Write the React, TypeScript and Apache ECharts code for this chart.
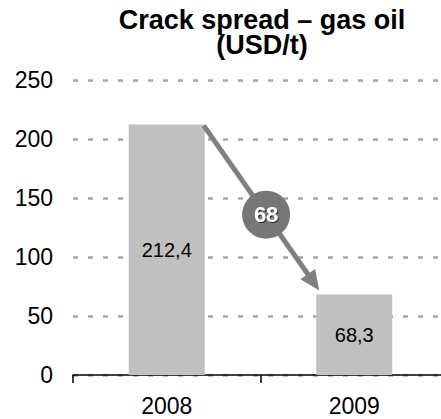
import React, { useEffect, useRef } from "react";
import * as echarts from "echarts";

const categories = ["2008", "2009"];
const values = [212.4, 68.3];
const valueLabels = ["212,4", "68,3"];
const yTicks = [0, 50, 100, 150, 200, 250];
const titleLines = ["Crack spread – gas oil", "(USD/t)"];

const FONT = "'Liberation Sans', Arial, Helvetica, sans-serif";
const BAR_W = 76;

export default function App() {
  const ref = useRef<HTMLDivElement>(null);
  useEffect(() => {
    if (!ref.current) return;
    const chart = echarts.init(ref.current, null, { renderer: "svg" });
    chart.setOption({
      animation: false,
      backgroundColor: "#ffffff",
      textStyle: { fontFamily: FONT },
      grid: {
        left: 73,
        width: 375,
        top: 80.3,
        bottom: 44,
        containLabel: false,
        outerBoundsMode: "none",
      },
      xAxis: {
        type: "category",
        data: categories,
        boundaryGap: true,
        axisLine: { show: true, lineStyle: { color: "#000", width: 1.5 } },
        axisTick: { show: true, length: 8, lineStyle: { color: "#000", width: 1.5 } },
        axisLabel: { fontSize: 23, color: "#000", margin: 19, fontFamily: FONT },
        splitLine: { show: false },
      },
      yAxis: {
        type: "value",
        min: yTicks[0],
        max: yTicks[yTicks.length - 1],
        interval: 50,
        axisLine: { show: false },
        axisTick: { show: false },
        axisLabel: { fontSize: 23, color: "#000", margin: 20, fontFamily: FONT },
        splitLine: {
          show: true,
          lineStyle: { color: "#a6a6a6", width: 2.5, type: [5, 10] },
        },
      },
      series: [
        {
          type: "bar",
          data: values,
          barWidth: BAR_W,
          itemStyle: { color: "#c0c0c0" },
          label: {
            show: true,
            position: "inside",
            fontSize: 20,
            color: "#000",
            fontFamily: FONT,
            formatter: (p: any) => valueLabels[p.dataIndex],
          },
        },
      ],
    });

    const s = chart.convertToPixel({ xAxisIndex: 0, yAxisIndex: 0 }, [0, values[0]]) as number[];
    const e = chart.convertToPixel({ xAxisIndex: 0, yAxisIndex: 0 }, [1, values[1]]) as number[];
    const x1 = s[0] + BAR_W / 2 - 1;
    const y1 = s[1] + 1;
    const x2 = e[0] - BAR_W / 2 + 3;
    const y2 = e[1] - 4;
    const dx = x2 - x1;
    const dy = y2 - y1;
    const len = Math.sqrt(dx * dx + dy * dy);
    const ux = dx / len;
    const uy = dy / len;
    const headL = 20;
    const headW = 9;
    const bx = x2 - ux * headL;
    const by = y2 - uy * headL;
    const px = -uy;
    const py = ux;
    const t = 0.54;
    const cx = x1 + dx * t;
    const cy = y1 + dy * t;
    const pct = Math.round((1 - values[1] / values[0]) * 100);
    const gray = "#808080";
    const titleX = 262;

    chart.setOption({
      graphic: [
        {
          type: "text",
          x: titleX,
          y: 7.5,
          style: {
            text: titleLines[0],
            fontSize: 27,
            lineHeight: 24,
            fontWeight: "bold",
            fontFamily: FONT,
            fill: "#000",
            align: "center",
            verticalAlign: "top",
          },
        },
        {
          type: "text",
          x: titleX,
          y: 32.5,
          style: {
            text: titleLines[1],
            fontSize: 27,
            lineHeight: 24,
            fontWeight: "bold",
            fontFamily: FONT,
            fill: "#000",
            align: "center",
            verticalAlign: "top",
          },
        },
        {
          type: "line",
          shape: { x1, y1, x2: bx + ux * 2, y2: by + uy * 2 },
          style: { stroke: gray, lineWidth: 5 },
          z: 10,
        },
        {
          type: "polygon",
          shape: {
            points: [
              [x2, y2],
              [bx + px * headW, by + py * headW],
              [bx - px * headW, by - py * headW],
            ],
          },
          style: { fill: gray },
          z: 10,
        },
        {
          type: "circle",
          shape: { cx, cy, r: 24 },
          style: { fill: "#777777" },
          z: 11,
        },
        {
          type: "text",
          x: cx,
          y: cy,
          style: {
            text: String(pct),
            fontSize: 22,
            fontWeight: "bold",
            fontFamily: FONT,
            fill: "#ffffff",
            align: "center",
            verticalAlign: "middle",
            textShadowColor: "#222",
            textShadowBlur: 1,
            textShadowOffsetX: 1,
            textShadowOffsetY: 1,
          },
          z: 12,
        },
      ],
    });

    return () => chart.dispose();
  }, []);

  return (
    <div
      ref={ref}
      style={{ position: "absolute", left: 0, top: 0, width: 441, height: 419 }}
    />
  );
}
